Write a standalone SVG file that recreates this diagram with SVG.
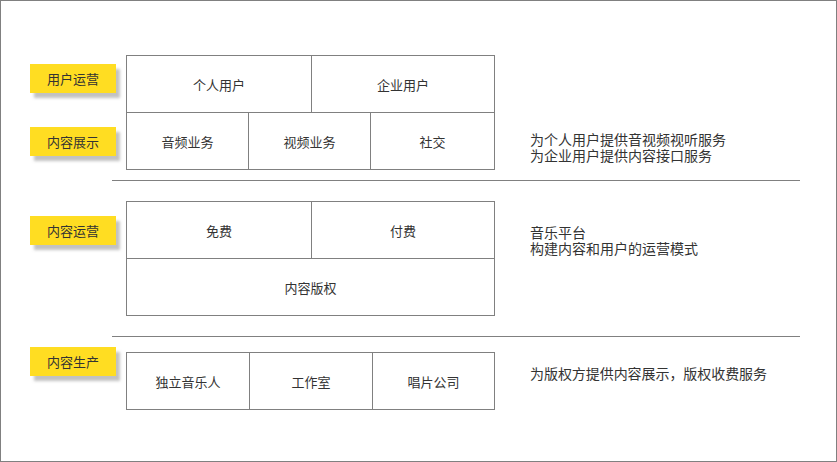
<svg xmlns="http://www.w3.org/2000/svg" width="837" height="462" viewBox="0 0 837 462">
<defs>
<filter id="sh" x="-20%" y="-30%" width="150%" height="180%">
<feDropShadow dx="4" dy="5" stdDeviation="1.5" flood-color="#999" flood-opacity="0.6"/>
</filter>
<style>
.tag{fill:#FFDD22;filter:url(#sh)}
.box{fill:#fff;stroke:#808080;stroke-width:1}
.ln{stroke:#808080;stroke-width:1;fill:none}
text{font-family:"Microsoft YaHei","Noto Sans CJK SC","Noto Sans",sans-serif;fill:#333}
.t{font-size:13px;text-anchor:middle;dominant-baseline:central}
.d{font-size:14px}
</style>
</defs>
<rect x="0.5" y="0.5" width="836" height="461" fill="#fff" stroke="#808080"/>
<g id="connectors">
<line class="ln" x1="112" y1="180.5" x2="800" y2="180.5"/>
<line class="ln" x1="112" y1="336.5" x2="800" y2="336.5"/>
</g>
<g id="tag-yonghu"><rect class="tag" x="30" y="64" width="86" height="29"/><text class="t" x="73" y="78.5">用户运营</text></g>
<g id="tag-zhanshi"><rect class="tag" x="30" y="127" width="86" height="29"/><text class="t" x="73" y="141.5">内容展示</text></g>
<g id="tag-yunying"><rect class="tag" x="30" y="216" width="86" height="29"/><text class="t" x="73" y="230.5">内容运营</text></g>
<g id="tag-shengchan"><rect class="tag" x="30" y="347" width="86" height="29"/><text class="t" x="73" y="361.5">内容生产</text></g>
<g id="box1">
<rect class="box" x="126.5" y="55.5" width="368" height="114"/>
<line class="ln" x1="126.5" y1="112.5" x2="494.5" y2="112.5"/>
<line class="ln" x1="311.5" y1="55.5" x2="311.5" y2="112.5"/>
<line class="ln" x1="248.5" y1="112.5" x2="248.5" y2="169.5"/>
<line class="ln" x1="370.5" y1="112.5" x2="370.5" y2="169.5"/>
<text class="t" x="219" y="84">个人用户</text>
<text class="t" x="403" y="84">企业用户</text>
<text class="t" x="187.5" y="141">音频业务</text>
<text class="t" x="309.5" y="141">视频业务</text>
<text class="t" x="432.5" y="141">社交</text>
</g>
<g id="box2">
<rect class="box" x="126.5" y="201.5" width="368" height="114"/>
<line class="ln" x1="126.5" y1="258.5" x2="494.5" y2="258.5"/>
<line class="ln" x1="311.5" y1="201.5" x2="311.5" y2="258.5"/>
<text class="t" x="219" y="230">免费</text>
<text class="t" x="403" y="230">付费</text>
<text class="t" x="310.5" y="287">内容版权</text>
</g>
<g id="box3">
<rect class="box" x="126.5" y="352.5" width="368" height="57"/>
<line class="ln" x1="249.5" y1="352.5" x2="249.5" y2="409.5"/>
<line class="ln" x1="372.5" y1="352.5" x2="372.5" y2="409.5"/>
<text class="t" x="188" y="381">独立音乐人</text>
<text class="t" x="311" y="381">工作室</text>
<text class="t" x="433.5" y="381">唱片公司</text>
</g>
<g id="desc1"><text class="d"><tspan x="530" y="145">为个人用户提供音视频视听服务</tspan><tspan x="530" y="161">为企业用户提供内容接口服务</tspan></text></g>
<g id="desc2"><text class="d"><tspan x="530" y="238">音乐平台</tspan><tspan x="530" y="254">构建内容和用户的运营模式</tspan></text></g>
<g id="desc3"><text class="d" x="530" y="379" textLength="237">为版权方提供内容展示，版权收费服务</text></g>
</svg>
